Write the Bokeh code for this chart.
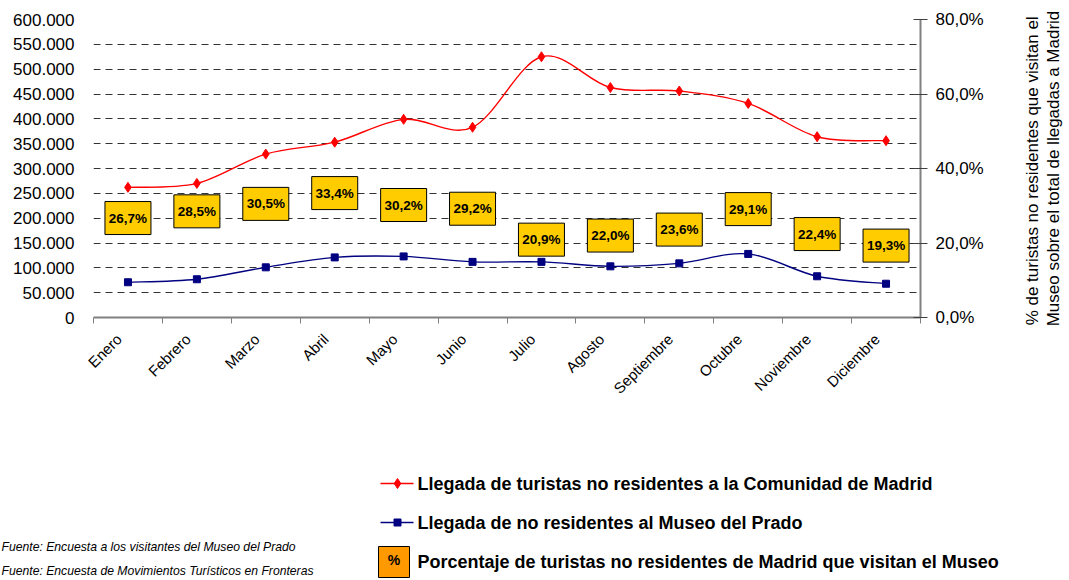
from math import pi
from bokeh.plotting import figure
from bokeh.models import Range1d, LinearAxis, FixedTicker, CustomJSTickFormatter, Title
from bokeh.layouts import column, row
from bokeh.embed import file_html
from bokeh.resources import INLINE
from bokeh.core.properties import value

# ---------------- data ----------------
months = ["Enero", "Febrero", "Marzo", "Abril", "Mayo", "Junio", "Julio",
          "Agosto", "Septiembre", "Octubre", "Noviembre", "Diciembre"]
madrid = [262000, 270000, 329000, 353000, 399000, 383000, 525000,
          463000, 456000, 431000, 364000, 356000]
prado = [71000, 77000, 101000, 121000, 123000, 112000, 112000,
         103000, 109000, 128000, 83000, 68000]
pct = [26.7, 28.5, 30.5, 33.4, 30.2, 29.2, 20.9, 22.0, 23.6, 29.1, 22.4, 19.3]
pct_labels = [("%.1f%%" % v).replace(".", ",") for v in pct]
left_ticks = list(range(0, 600001, 50000))
left_tick_labels = ["0"] + ["{:,}".format(t).replace(",", ".") for t in left_ticks[1:]]
right_ticks = [0, 20, 40, 60, 80]
right_tick_labels = ["0,0%", "20,0%", "40,0%", "60,0%", "80,0%"]

legend_labels = [
    "Llegada de turistas no residentes a la Comunidad de Madrid",
    "Llegada de no residentes al Museo del Prado",
    "Porcentaje de turistas no residentes de Madrid que visitan el Museo",
]
sources = [
    "Fuente: Encuesta a los visitantes del Museo del Prado",
    "Fuente: Encuesta de Movimientos Turísticos en Fronteras",
]
right_title = ["% de turistas  no residentes que visitan el",
               "Museo sobre el total de llegadas a Madrid"]

FONT_NAME = "Liberation Sans"
FONT = value(FONT_NAME)
xs = [i + 0.5 for i in range(len(months))]
label_pos = [i + 0.37 for i in range(len(months))]  # anchor of rotated month labels


def smooth(x, y):
    n = len(x)
    out = {k: [] for k in ["x0", "y0", "x1", "y1", "cx0", "cy0", "cx1", "cy1"]}
    for i in range(n - 1):
        i0 = max(i - 1, 0)
        i3 = min(i + 2, n - 1)
        out["x0"].append(x[i]); out["y0"].append(y[i])
        out["x1"].append(x[i + 1]); out["y1"].append(y[i + 1])
        out["cx0"].append(x[i] + (x[i + 1] - x[i0]) / 6)
        out["cy0"].append(y[i] + (y[i + 1] - y[i0]) / 6)
        out["cx1"].append(x[i + 1] - (x[i3] - x[i]) / 6)
        out["cy1"].append(y[i + 1] - (y[i3] - y[i]) / 6)
    return out


def bare(fig):
    fig.axis.visible = False
    fig.grid.visible = False
    fig.outline_line_color = None


# ---------------- main chart ----------------
p = figure(width=1020, height=460, output_backend="svg", toolbar_location=None,
           x_range=Range1d(0, 12), y_range=Range1d(0, 600000),
           min_border_left=93, min_border_right=100, min_border_top=19,
           min_border_bottom=143)
p.outline_line_color = None
p.xgrid.visible = False
p.ygrid.ticker = FixedTicker(ticks=left_ticks[1:])
p.ygrid.grid_line_color = "#333333"
p.ygrid.grid_line_dash = "7 5"
p.ygrid.grid_line_width = 1

# x axis
xa = p.xaxis[0]
xa.ticker = FixedTicker(ticks=label_pos, minor_ticks=list(range(13)))
xa.formatter = CustomJSTickFormatter(args=dict(months=months),
                                     code="return months[Math.floor(tick)] || '';")
xa.major_tick_line_color = None
xa.major_tick_in = 0
xa.major_tick_out = 0
xa.minor_tick_in = 0
xa.minor_tick_out = 6
xa.minor_tick_line_color = "#808080"
xa.axis_line_color = "#808080"
xa.axis_line_width = 2
xa.major_label_orientation = pi / 4
xa.major_label_standoff = 13
xa.major_label_text_font = FONT_NAME
xa.major_label_text_font_size = "15px"
xa.major_label_text_color = "black"

# left axis
ya = p.yaxis[0]
ya.ticker = FixedTicker(ticks=left_ticks)
ya.major_label_overrides = dict(zip(left_ticks, left_tick_labels))
ya.axis_line_color = None
ya.major_tick_line_color = None
ya.major_tick_in = 0
ya.major_tick_out = 0
ya.minor_tick_line_color = None
ya.major_label_standoff = 19
ya.major_label_text_font = FONT_NAME
ya.major_label_text_font_size = "17px"
ya.major_label_text_color = "black"

# right axis
p.extra_y_ranges = {"pct": Range1d(0, 80)}
ra = LinearAxis(y_range_name="pct")
ra.ticker = FixedTicker(ticks=right_ticks)
ra.major_label_overrides = dict(zip(right_ticks, right_tick_labels))
ra.axis_line_color = "#808080"
ra.axis_line_width = 2
ra.major_tick_line_color = "#404040"
ra.major_tick_in = 7
ra.major_tick_out = 7
ra.minor_tick_line_color = None
ra.major_label_standoff = 8
ra.major_label_text_font = FONT_NAME
ra.major_label_text_font_size = "17px"
ra.major_label_text_color = "black"
p.add_layout(ra, "right")

# lines
sm = smooth(xs, madrid)
p.bezier(x0=sm["x0"], y0=sm["y0"], x1=sm["x1"], y1=sm["y1"],
         cx0=sm["cx0"], cy0=sm["cy0"], cx1=sm["cx1"], cy1=sm["cy1"],
         line_color="#FF0000", line_width=1.4)
p.scatter(xs, madrid, marker="diamond", size=10, fill_color="#FF0000",
          line_color="#FF0000")

sp = smooth(xs, prado)
p.bezier(x0=sp["x0"], y0=sp["y0"], x1=sp["x1"], y1=sp["y1"],
         cx0=sp["cx0"], cy0=sp["cy0"], cx1=sp["cx1"], cy1=sp["cy1"],
         line_color="#000080", line_width=1.4)
p.scatter(xs, prado, marker="square", size=7, fill_color="#000080",
          line_color="#000080")

# percentage boxes
p.rect(xs, pct, width=46, height=33, width_units="screen", height_units="screen",
       fill_color="#FFCC00", line_color="black", line_width=1, y_range_name="pct")
p.text(xs, pct, text=pct_labels, text_font=FONT, text_font_style="bold",
       text_font_size="13.5px", text_align="center", text_baseline="middle",
       text_color="black", y_range_name="pct")

# ---------------- right axis title (titles on the left of a narrow figure) ----
r = figure(width=49, height=460, output_backend="svg", toolbar_location=None,
           x_range=Range1d(0, 1), y_range=Range1d(0, 1), min_border=0)
bare(r)
for t in reversed(right_title):
    r.add_layout(Title(text=t, align="center", text_font=FONT_NAME,
                       text_font_size="17px", text_font_style="normal",
                       text_color="black", standoff=0, offset=0), "left")

# ---------------- legend / sources ----------------
q = figure(width=1069, height=120, output_backend="svg", toolbar_location=None,
           x_range=Range1d(0, 1069), y_range=Range1d(580, 460), min_border=0)
bare(q)

q.line([380, 413], [483, 483], line_color="#FF0000", line_width=1.4)
q.scatter([397], [483], marker="diamond", size=10, fill_color="#FF0000",
          line_color="#FF0000")
q.line([380, 413], [522, 522], line_color="#000080", line_width=1.4)
q.scatter([397], [522], marker="square", size=7, fill_color="#000080",
          line_color="#000080")
q.rect([393.5], [561.5], width=31, height=31, width_units="screen",
       height_units="screen", fill_color="#FF9900", line_color="black", line_width=1)
q.text([393.5], [559], text=["%"], text_font=FONT, text_font_style="bold",
       text_font_size="14px", text_align="center", text_baseline="middle",
       text_color="black")
q.text([417, 417, 417], [483, 522, 561], text=legend_labels, text_font=FONT,
       text_font_style="bold", text_font_size="18px", text_align="left",
       text_baseline="middle", text_color="black")
q.text([1, 1], [546, 570], text=sources, text_font=FONT,
       text_font_style="italic", text_font_size="12.2px", text_align="left",
       text_baseline="middle", text_color="black")

layout = column(row(p, r, spacing=0), q, spacing=0)
open("out.html", "w").write(file_html(layout, INLINE))
